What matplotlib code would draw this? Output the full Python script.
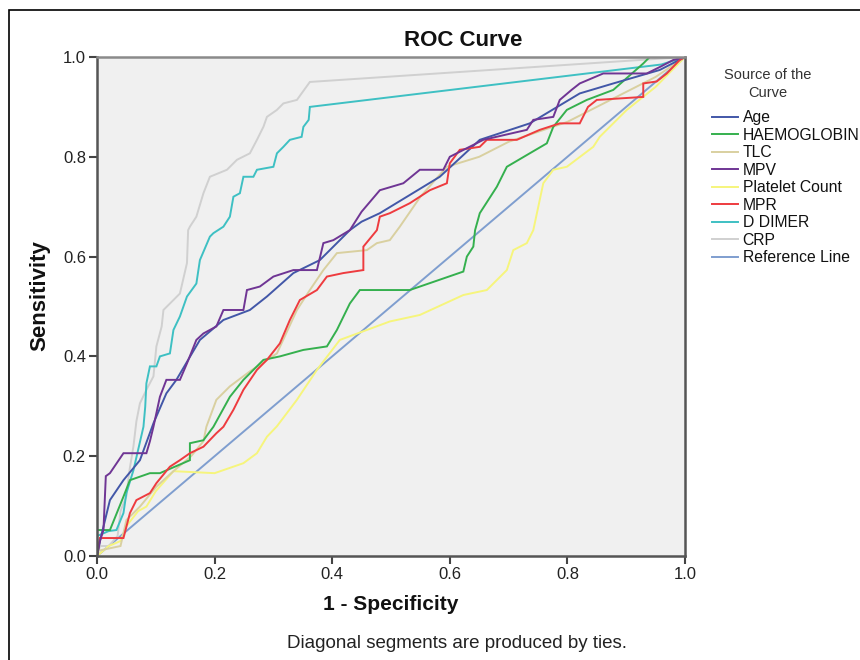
import matplotlib
matplotlib.use("Agg")
import matplotlib.pyplot as plt
from matplotlib.patches import Rectangle

plt.rcParams['font.family'] = ['Liberation Sans', 'DejaVu Sans']

# ---- data ----
series_names = ["Age", "HAEMOGLOBIN", "TLC", "MPV", "Platelet Count", "MPR",
                "D DIMER", "CRP", "Reference Line"]

age_x = [0, 0.005, 0.011, 0.022, 0.045, 0.073, 0.096, 0.118, 0.135, 0.175, 0.215, 0.260,
         0.289, 0.334, 0.379, 0.430, 0.45, 0.481, 0.583, 0.651, 0.736, 0.821, 0.878, 0.957, 1.0]
age_y = [0, 0.03, 0.059, 0.112, 0.152, 0.192, 0.266, 0.326, 0.353, 0.433, 0.473, 0.493,
         0.52, 0.567, 0.593, 0.653, 0.67, 0.687, 0.76, 0.834, 0.867, 0.927, 0.947, 0.974, 1.0]

hb_x = [0, 0.0, 0.022, 0.045, 0.056, 0.090, 0.107, 0.158, 0.158, 0.181, 0.198, 0.226, 0.249,
        0.283, 0.311, 0.351, 0.391, 0.408, 0.430, 0.447, 0.532, 0.623, 0.629, 0.640, 0.643,
        0.651, 0.680, 0.697, 0.736, 0.765, 0.776, 0.799, 0.833, 0.878, 0.929, 0.940, 1.0]
hb_y = [0, 0.052, 0.052, 0.119, 0.152, 0.166, 0.166, 0.192, 0.226, 0.232, 0.259, 0.319, 0.353,
        0.393, 0.400, 0.413, 0.420, 0.453, 0.506, 0.533, 0.533, 0.570, 0.600, 0.620, 0.653,
        0.687, 0.740, 0.780, 0.807, 0.827, 0.860, 0.894, 0.914, 0.934, 0.987, 1.0, 1.0]

tlc_x = [0, 0.0, 0.04, 0.05, 0.073, 0.101, 0.13, 0.16, 0.181, 0.186, 0.203, 0.226, 0.26, 0.306,
         0.340, 0.362, 0.385, 0.408, 0.459, 0.476, 0.498, 0.515, 0.55, 0.595, 0.65, 0.7, 0.75,
         0.8, 0.85, 0.9, 0.95, 1.0]
tlc_y = [0, 0.01, 0.02, 0.072, 0.099, 0.139, 0.17, 0.2, 0.23, 0.259, 0.313, 0.34, 0.37, 0.406,
         0.493, 0.533, 0.573, 0.607, 0.613, 0.627, 0.633, 0.66, 0.72, 0.78, 0.80, 0.83, 0.85,
         0.87, 0.9, 0.93, 0.96, 1.0]

mpv_x = [0, 0.005, 0.011, 0.015, 0.022, 0.045, 0.084, 0.09, 0.096, 0.107, 0.118, 0.141, 0.153,
         0.169, 0.181, 0.203, 0.215, 0.249, 0.255, 0.277, 0.300, 0.334, 0.374, 0.385, 0.402,
         0.430, 0.45, 0.481, 0.521, 0.549, 0.589, 0.600, 0.657, 0.731, 0.742, 0.776, 0.787,
         0.807, 0.821, 0.861, 0.935, 0.959, 0.980, 1.0]
mpv_y = [0, 0.03, 0.052, 0.16, 0.166, 0.206, 0.206, 0.23, 0.259, 0.319, 0.353, 0.353, 0.386,
         0.433, 0.446, 0.46, 0.493, 0.493, 0.533, 0.54, 0.56, 0.573, 0.573, 0.627, 0.633,
         0.653, 0.69, 0.733, 0.747, 0.774, 0.774, 0.80, 0.834, 0.854, 0.874, 0.880, 0.914,
         0.934, 0.947, 0.967, 0.967, 0.981, 0.994, 1.0]

plt_x = [0, 0.02, 0.04, 0.05, 0.07, 0.084, 0.1, 0.13, 0.2, 0.249, 0.272, 0.289, 0.306, 0.340,
         0.374, 0.413, 0.459, 0.498, 0.549, 0.623, 0.663, 0.697, 0.708, 0.731, 0.742, 0.759,
         0.776, 0.799, 0.844, 0.855, 0.901, 0.95, 1.0]
plt_y = [0, 0.02, 0.03, 0.06, 0.09, 0.099, 0.13, 0.17, 0.166, 0.186, 0.206, 0.239, 0.26, 0.313,
         0.373, 0.433, 0.453, 0.470, 0.483, 0.523, 0.533, 0.573, 0.613, 0.627, 0.653, 0.747,
         0.774, 0.780, 0.820, 0.840, 0.894, 0.94, 1.0]

mpr_x = [0, 0.005, 0.045, 0.056, 0.067, 0.090, 0.101, 0.124, 0.141, 0.158, 0.181, 0.203, 0.215,
         0.232, 0.249, 0.272, 0.289, 0.311, 0.328, 0.345, 0.374, 0.391, 0.419, 0.453, 0.453,
         0.476, 0.481, 0.498, 0.532, 0.566, 0.595, 0.600, 0.617, 0.651, 0.663, 0.714, 0.753,
         0.787, 0.821, 0.835, 0.850, 0.929, 0.929, 0.952, 0.969, 0.991, 1.0]
mpr_y = [0, 0.036, 0.036, 0.086, 0.112, 0.126, 0.146, 0.179, 0.192, 0.206, 0.219, 0.246, 0.259,
         0.293, 0.333, 0.373, 0.393, 0.426, 0.473, 0.513, 0.533, 0.56, 0.567, 0.573, 0.62,
         0.653, 0.68, 0.687, 0.707, 0.733, 0.747, 0.787, 0.814, 0.82, 0.834, 0.834, 0.854,
         0.867, 0.867, 0.90, 0.914, 0.92, 0.947, 0.951, 0.967, 0.994, 1.0]

dd_x = [0, 0.0, 0.02, 0.033, 0.045, 0.05, 0.062, 0.079, 0.082, 0.084, 0.090, 0.101, 0.107, 0.124,
        0.130, 0.141, 0.153, 0.169, 0.175, 0.192, 0.198, 0.215, 0.226, 0.232, 0.243, 0.249,
        0.266, 0.272, 0.300, 0.306, 0.317, 0.328, 0.348, 0.351, 0.360, 0.362, 0.96, 1.0]
dd_y = [0, 0.04, 0.05, 0.052, 0.086, 0.126, 0.172, 0.259, 0.299, 0.346, 0.38, 0.38, 0.40, 0.406,
        0.453, 0.48, 0.52, 0.546, 0.593, 0.640, 0.647, 0.660, 0.68, 0.72, 0.727, 0.76,
        0.76, 0.774, 0.78, 0.807, 0.82, 0.834, 0.84, 0.86, 0.874, 0.90, 0.985, 1.0]

crp_x = [0, 0.005, 0.02, 0.035, 0.04, 0.05, 0.055, 0.062, 0.067, 0.073, 0.084, 0.096, 0.101,
         0.110, 0.113, 0.130, 0.141, 0.153, 0.155, 0.158, 0.169, 0.181, 0.192, 0.221, 0.238,
         0.260, 0.272, 0.283, 0.289, 0.306, 0.317, 0.340, 0.362, 1.0]
crp_y = [0, 0.02, 0.02, 0.04, 0.09, 0.12, 0.17, 0.22, 0.27, 0.306, 0.333, 0.36, 0.42, 0.46,
         0.493, 0.513, 0.526, 0.587, 0.653, 0.66, 0.68, 0.727, 0.76, 0.774, 0.794, 0.807,
         0.834, 0.86, 0.88, 0.894, 0.907, 0.914, 0.95, 1.0]

ref_x = [0.0, 1.0]
ref_y = [0.0, 1.0]

colors = {
    "Age": "#4257a8",
    "HAEMOGLOBIN": "#35b04e",
    "TLC": "#d9d0a0",
    "MPV": "#6f3594",
    "Platelet Count": "#f6f57c",
    "MPR": "#ee3b3f",
    "D DIMER": "#3ec0c3",
    "CRP": "#d0d0d0",
    "Reference Line": "#7f9ecf",
}

series = {
    "Age": (age_x, age_y),
    "HAEMOGLOBIN": (hb_x, hb_y),
    "TLC": (tlc_x, tlc_y),
    "MPV": (mpv_x, mpv_y),
    "Platelet Count": (plt_x, plt_y),
    "MPR": (mpr_x, mpr_y),
    "D DIMER": (dd_x, dd_y),
    "CRP": (crp_x, crp_y),
    "Reference Line": (ref_x, ref_y),
}
draw_order = ["Reference Line", "CRP", "D DIMER", "Platelet Count", "TLC",
              "HAEMOGLOBIN", "Age", "MPR", "MPV"]

# ---- figure ----
W, H = 860, 660
fig = plt.figure(figsize=(W / 100, H / 100), dpi=100)
ax = fig.add_axes([97 / W, 1 - 556 / H, (685 - 97) / W, (556 - 57) / H])
ax.set_facecolor("#f0f0f0")

handles = {}
for name in draw_order:
    xs, ys = series[name]
    ln, = ax.plot(xs, ys, color=colors[name], lw=1.4, solid_joinstyle="miter")
    handles[name] = ln

ax.set_xlim(0, 1)
ax.set_ylim(0, 1)
ticks = [0.0, 0.2, 0.4, 0.6, 0.8, 1.0]
ax.set_xticks(ticks)
ax.set_yticks(ticks)
ax.set_xticklabels([f"{t:.1f}" for t in ticks])
ax.set_yticklabels([f"{t:.1f}" for t in ticks])
ax.tick_params(direction="out", length=6, width=1.5, color="#444444",
               labelsize=12, labelcolor="#222222", pad=2)

for side in ["left", "bottom", "right"]:
    ax.spines[side].set_color("#555555")
    ax.spines[side].set_linewidth(1.8)
ax.spines["top"].set_color("#8a8a8a")
ax.spines["top"].set_linewidth(1.8)

ax.set_xlabel("1 - Specificity", fontsize=15, fontweight="bold", color="#111111")
ax.xaxis.set_label_coords(0.5, (556 - 605) / 499)
ax.xaxis.label.set_va("center")
ax.set_ylabel("Sensitivity", fontsize=16, fontweight="bold", color="#111111")
ax.yaxis.set_label_coords((40 - 97) / 588, (556 - 296) / 499)
ax.yaxis.label.set_va("center")

fig.text(463 / W, 1 - 40 / H, "ROC Curve", fontsize=16, fontweight="bold",
         ha="center", va="center", color="#111111")
fig.text(457 / W, 1 - 643 / H, "Diagonal segments are produced by ties.",
         fontsize=13.5, ha="center", va="center", color="#222222")

# legend title
fig.text(768 / W, 1 - 75 / H, "Source of the", fontsize=10.5, ha="center",
         va="center", color="#333333")
fig.text(768 / W, 1 - 93 / H, "Curve", fontsize=10.5, ha="center",
         va="center", color="#333333")

leg = fig.legend([handles[n] for n in series_names], series_names,
                 loc="upper left", bbox_to_anchor=(712 / W, 1 - 110 / H),
                 frameon=False, fontsize=11.3, handlelength=1.65, handletextpad=0.3,
                 labelspacing=0.16, borderpad=0, borderaxespad=0)
for t in leg.get_texts():
    t.set_color("#111111")

# outer frame (left and top edges visible)
fig.add_artist(Rectangle((9 / W, -0.2), 1.5, 1 - 10 / H + 0.2, transform=fig.transFigure,
                         fill=False, edgecolor="black", lw=1.2, clip_on=False))

fig.savefig("out.png", dpi=100)
